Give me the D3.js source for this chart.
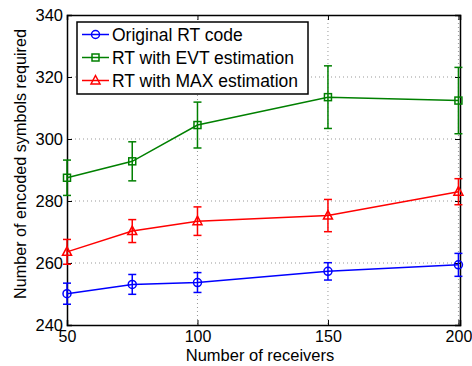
<!DOCTYPE html>
<html>
<head>
<meta charset="utf-8">
<script src="https://cdn.jsdelivr.net/npm/d3@7"></script>
<style>
  body { margin: 0; background: #fff; }
  text { font-family: "Liberation Sans", Arial, sans-serif; fill: #000; }
</style>
</head>
<body>
<script>
const receivers = [50, 75, 100, 150, 200];
const xTicks = [50, 100, 150, 200];
const yTicks = [240, 260, 280, 300, 320, 340];

const originalMean = [250.1, 253.1, 253.7, 257.3, 259.4];
const originalErr  = [3.4, 3.2, 3.2, 2.8, 3.7];
const evtMean = [287.5, 292.8, 304.5, 313.5, 312.4];
const evtErr  = [5.7, 6.3, 7.4, 10.1, 10.7];
const maxMean = [263.6, 270.3, 273.5, 275.3, 283.0];
const maxErr  = [4.0, 3.7, 4.6, 5.2, 4.2];

const series = [
  { name: 'Original RT code', color: '#0000ff', marker: 'circle', mean: originalMean, err: originalErr },
  { name: 'RT with EVT estimation', color: '#008000', marker: 'square', mean: evtMean, err: evtErr },
  { name: 'RT with MAX estimation', color: '#ff0000', marker: 'triangle', mean: maxMean, err: maxErr }
];

const W = 472, H = 366;
const mLeft = 67, mRight = 460, mTop = 15, mBottom = 325;

const svg = d3.select('body').append('svg')
  .attr('width', W).attr('height', H);

const x = d3.scaleLinear().domain([50, 200.6]).range([mLeft, mRight]);
const y = d3.scaleLinear().domain([240, 340]).range([mBottom, mTop]);

// grid
const grid = svg.append('g');
grid.selectAll('.gx').data(xTicks.slice(1)).enter().append('line')
  .attr('x1', d => x(d)).attr('x2', d => x(d))
  .attr('y1', mTop).attr('y2', mBottom)
  .attr('stroke', '#999').attr('stroke-width', 1).attr('stroke-dasharray', '1,3');
grid.selectAll('.gy').data(yTicks.slice(1, -1)).enter().append('line')
  .attr('x1', mLeft).attr('x2', mRight)
  .attr('y1', d => y(d)).attr('y2', d => y(d))
  .attr('stroke', '#999').attr('stroke-width', 1).attr('stroke-dasharray', '1,3');

// axes
const xAxis = d3.axisBottom(x).tickValues(xTicks).tickSize(-5).tickPadding(6);
const yAxis = d3.axisLeft(y).tickValues(yTicks).tickSize(-5).tickPadding(4);

const gx = svg.append('g').attr('transform', `translate(0,${mBottom})`).call(xAxis);
const gy = svg.append('g').attr('transform', `translate(${mLeft},0)`).call(yAxis);
svg.append('g').attr('transform', `translate(0,${mTop})`)
  .call(d3.axisTop(x).tickValues(xTicks).tickSize(-5).tickFormat(''));
svg.append('g').attr('transform', `translate(${mRight},0)`)
  .call(d3.axisRight(y).tickValues(yTicks).tickSize(-5).tickFormat(''));

svg.selectAll('.domain').attr('stroke', '#000').attr('stroke-width', 1.5);
svg.selectAll('.tick line').attr('stroke', '#000');
gx.selectAll('text').attr('font-size', 16).attr('fill', '#000');
gy.selectAll('text').attr('font-size', 16.5).attr('fill', '#000');

// axis titles
svg.append('text')
  .attr('x', 260).attr('y', 361)
  .attr('text-anchor', 'middle').attr('font-size', 16.5)
  .text('Number of receivers');
svg.append('text')
  .attr('transform', `translate(26,164) rotate(-90)`)
  .attr('text-anchor', 'middle').attr('font-size', 16.2)
  .text('Number of encoded symbols required');

function drawMarker(g, type, color, cx, cy) {
  if (type === 'circle') {
    g.append('circle').attr('cx', cx).attr('cy', cy).attr('r', 4)
      .attr('fill', 'none').attr('stroke', color).attr('stroke-width', 1.5);
  } else if (type === 'square') {
    g.append('rect').attr('x', cx - 3.5).attr('y', cy - 3.5)
      .attr('width', 7).attr('height', 7)
      .attr('fill', 'none').attr('stroke', color).attr('stroke-width', 1.5);
  } else {
    g.append('path')
      .attr('d', `M${cx},${cy - 5}L${cx + 4.5},${cy + 3.5}L${cx - 4.5},${cy + 3.5}Z`)
      .attr('fill', 'none').attr('stroke', color).attr('stroke-width', 1.5);
  }
}

const line = d3.line().x(d => x(d[0])).y(d => y(d[1]));

series.forEach(s => {
  const g = svg.append('g');
  const pts = receivers.map((r, i) => [r, s.mean[i], s.err[i]]);
  g.append('path').datum(pts).attr('d', line)
    .attr('fill', 'none').attr('stroke', s.color).attr('stroke-width', 1.5);
  pts.forEach(p => {
    const cx = x(p[0]);
    const y1 = y(p[1] + p[2]), y2 = y(p[1] - p[2]);
    g.append('line').attr('x1', cx).attr('x2', cx).attr('y1', y1).attr('y2', y2)
      .attr('stroke', s.color).attr('stroke-width', 1.5);
    [y1, y2].forEach(yy => {
      g.append('line').attr('x1', cx - 4).attr('x2', cx + 4).attr('y1', yy).attr('y2', yy)
        .attr('stroke', s.color).attr('stroke-width', 1.5);
    });
    drawMarker(g, s.marker, s.color, cx, y(p[1]));
  });
});

// legend
const lg = svg.append('g');
lg.append('rect').attr('x', 77).attr('y', 22).attr('width', 231).attr('height', 72)
  .attr('fill', '#fff').attr('stroke', '#000').attr('stroke-width', 1.5);
series.forEach((s, i) => {
  const ly = 34.5 + i * 23;
  lg.append('line').attr('x1', 82).attr('x2', 109).attr('y1', ly).attr('y2', ly)
    .attr('stroke', s.color).attr('stroke-width', 1.5);
  drawMarker(lg, s.marker, s.color, 95.5, ly);
  lg.append('text').attr('x', 112).attr('y', ly + 6).attr('font-size', 17.5).text(s.name);
});
</script>
</body>
</html>
